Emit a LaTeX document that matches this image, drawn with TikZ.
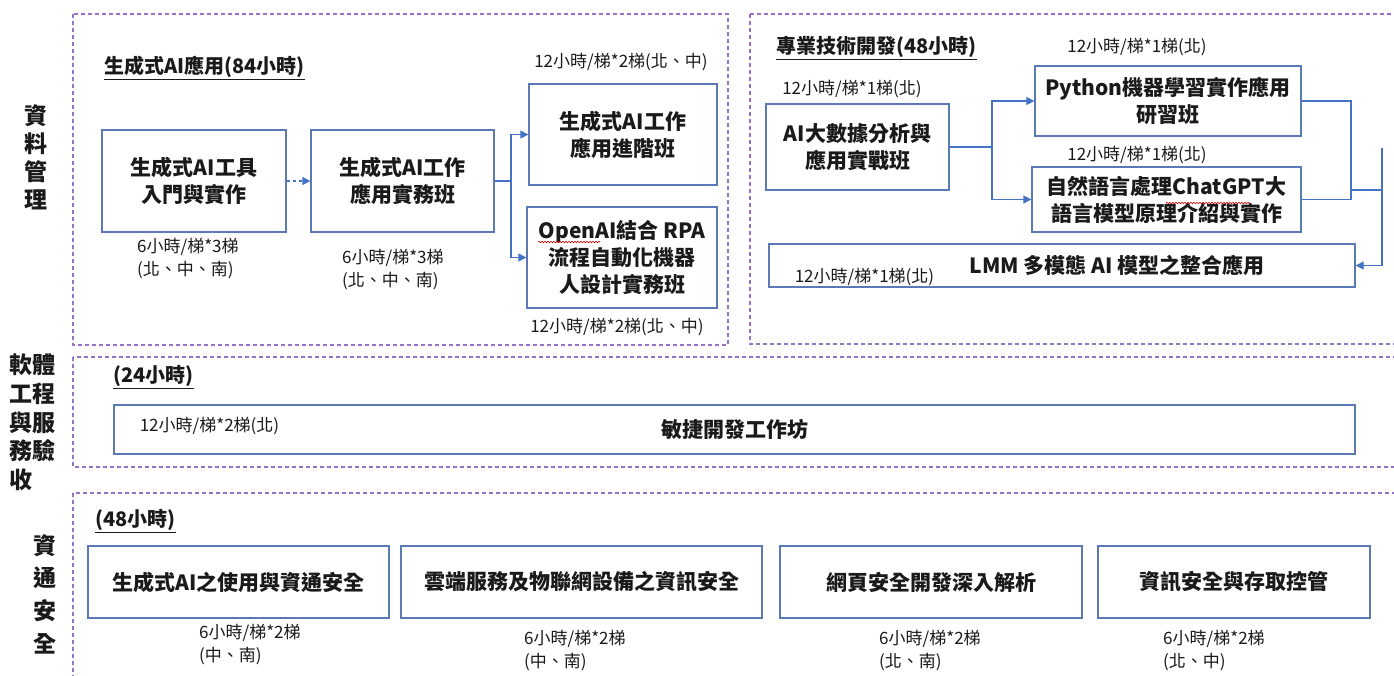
\documentclass[tikz,border=0pt]{standalone}
\usepackage{fontspec}
\setmainfont{Noto Sans CJK TC}
\usetikzlibrary{arrows.meta,decorations.pathmorphing}
\definecolor{panelc}{HTML}{9473C6}
\definecolor{boxc}{HTML}{5B7AB5}
\definecolor{connc}{HTML}{4472C4}
\definecolor{txtc}{HTML}{1A1A1A}
\tikzset{
  x=1pt, y=-1pt,
  panel/.style={draw=panelc, line width=1.1pt, dash pattern=on 4pt off 3pt},
  box/.style={draw=boxc, line width=1.3pt, align=center, inner sep=0pt, text=txtc, font=\fontsize{21}{27}\selectfont\bfseries},
  conn/.style={draw=connc, line width=1.3pt},
  tip/.style={-{Triangle[length=8pt,width=8pt]}},
  lbl/.style={inner sep=0pt, text=txtc, font=\fontsize{17}{23}\selectfont, align=left},
  ttl/.style={inner sep=0pt, anchor=west, text=txtc, font=\fontsize{20}{24}\selectfont\bfseries},
  side/.style={inner sep=0pt, text=txtc, font=\fontsize{23}{28}\selectfont\bfseries, align=left},
  wavy/.style={draw=red!85!black, line width=0.6pt, decorate, decoration={snake, amplitude=0.8pt, segment length=3pt}}
}
\begin{document}
\begin{tikzpicture}
\useasboundingbox[fill=white] (0,0) rectangle (1394,675);

% panels
\draw[panel] (73,14) rectangle (728,345);
\draw[panel] (750,14) rectangle (1402,344);
\draw[panel] (73,357) rectangle (1402,467);
\draw[panel] (73,493) rectangle (1402,690);

% side labels
\node[side, align=center] (s1) at (36,157) {資\\料\\管\\理};
\node[side, anchor=west, font=\fontsize{23}{28.75}\selectfont\bfseries] (s2) at (9,422.5) {軟體\\工程\\與服\\務驗\\收};
\node[side, align=center, font=\fontsize{23}{32.7}\selectfont\bfseries] (s3) at (45,594) {資\\通\\安\\全};

% titles
\node[ttl] (t1) at (104,68) {\underline{生成式AI應用(84小時)}};
\node[ttl] (t2) at (776,48) {\underline{專業技術開發(48小時)}};
\node[ttl] (t3) at (113,377) {\underline{(24小時)}};
\node[ttl] (t4) at (95,521) {\underline{(48小時)}};

% top-left boxes
\node[box, minimum width=184, minimum height=102] (A) at (194,181) {生成式AI工具\\入門與實作};
\node[box, minimum width=183, minimum height=102] (B) at (402.5,181) {生成式AI工作\\應用實務班};
\node[box, minimum width=188, minimum height=101] (C) at (623,134.5) {生成式AI工作\\應用進階班};
\node[box, minimum width=190, minimum height=101] (D) at (622,257.5) {OpenAI結合 RPA\\流程自動化機器\\人設計實務班};

\node[lbl] (lC) at (621,62) {12小時/梯*2梯(北、中)};
\node[lbl] (lD) at (617,327) {12小時/梯*2梯(北、中)};
\node[lbl, anchor=west] (lA) at (137,258.5) {6小時/梯*3梯\\(北、中、南)};
\node[lbl, anchor=west] (lB) at (342,270) {6小時/梯*3梯\\(北、中、南)};

\draw[conn, tip, dashed] (A.east) -- (B.west);
\coordinate (bj) at (511,181);
\draw[conn] (B.east) -- (bj);
\draw[conn, tip] (bj) |- (C.west);
\draw[conn, tip] (bj) |- (D.west);

% top-right boxes
\node[box, minimum width=183, minimum height=86] (E) at (857.5,147) {AI大數據分析與\\應用實戰班};
\node[box, minimum width=266, minimum height=70] (F) at (1168,101) {Python機器學習實作應用\\研習班};
\node[box, minimum width=269, minimum height=65] (G) at (1166.5,199.5) {自然語言處理ChatGPT大\\語言模型原理介紹與實作};
\node[box, minimum width=586, minimum height=43] (H) at (1062,265.5) {\hspace*{110pt}LMM 多模態 AI 模型之整合應用};

\node[lbl] (lE) at (852,89) {12小時/梯*1梯(北)};
\node[lbl] (lF) at (1137,47) {12小時/梯*1梯(北)};
\node[lbl] (lG) at (1137,155) {12小時/梯*1梯(北)};
\node[lbl] (lH) at (864.5,277) {12小時/梯*1梯(北)};

\coordinate (ej) at (992,147);
\draw[conn] (E.east) -- (ej);
\draw[conn, tip] (ej) |- (F.west);
\draw[conn, tip] (ej) |- (G.west);
\coordinate (fj) at (1351,190);
\coordinate (rj) at (1382,190);
\coordinate (rt) at (1382,148);
\draw[conn] (F.east) -| (fj);
\draw[conn] (G.east) -| (fj);
\draw[conn] (fj) -- (rj);
\draw[conn] (rt) -- (rj);
\draw[conn, tip] (rj) |- (H.east);

% middle
\node[box, minimum width=1241, minimum height=49] (I) at (734.5,429.5) {敏捷開發工作坊};
\node[lbl] (lI) at (209.5,426) {12小時/梯*2梯(北)};

% bottom
\node[box, minimum width=301, minimum height=72] (J) at (238.5,582) {生成式AI之使用與資通安全};
\node[box, minimum width=361, minimum height=72] (K) at (581.5,582) {雲端服務及物聯網設備之資訊安全};
\node[box, minimum width=302, minimum height=72] (L) at (931,582) {網頁安全開發深入解析};
\node[box, minimum width=272, minimum height=72] (M) at (1234,582) {資訊安全與存取控管};

\node[lbl, anchor=west] (lJ) at (199,644.5) {6小時/梯*2梯\\(中、南)};
\node[lbl, anchor=west] (lK) at (524,651) {6小時/梯*2梯\\(中、南)};
\node[lbl, anchor=west] (lL) at (879,651) {6小時/梯*2梯\\(北、南)};
\node[lbl, anchor=west] (lM) at (1163,651) {6小時/梯*2梯\\(北、中)};

% spell-check marks
\draw[wavy] (538,242) -- (600,242);
\draw[wavy] (1166,203) -- (1250,203);
\end{tikzpicture}
\end{document}
